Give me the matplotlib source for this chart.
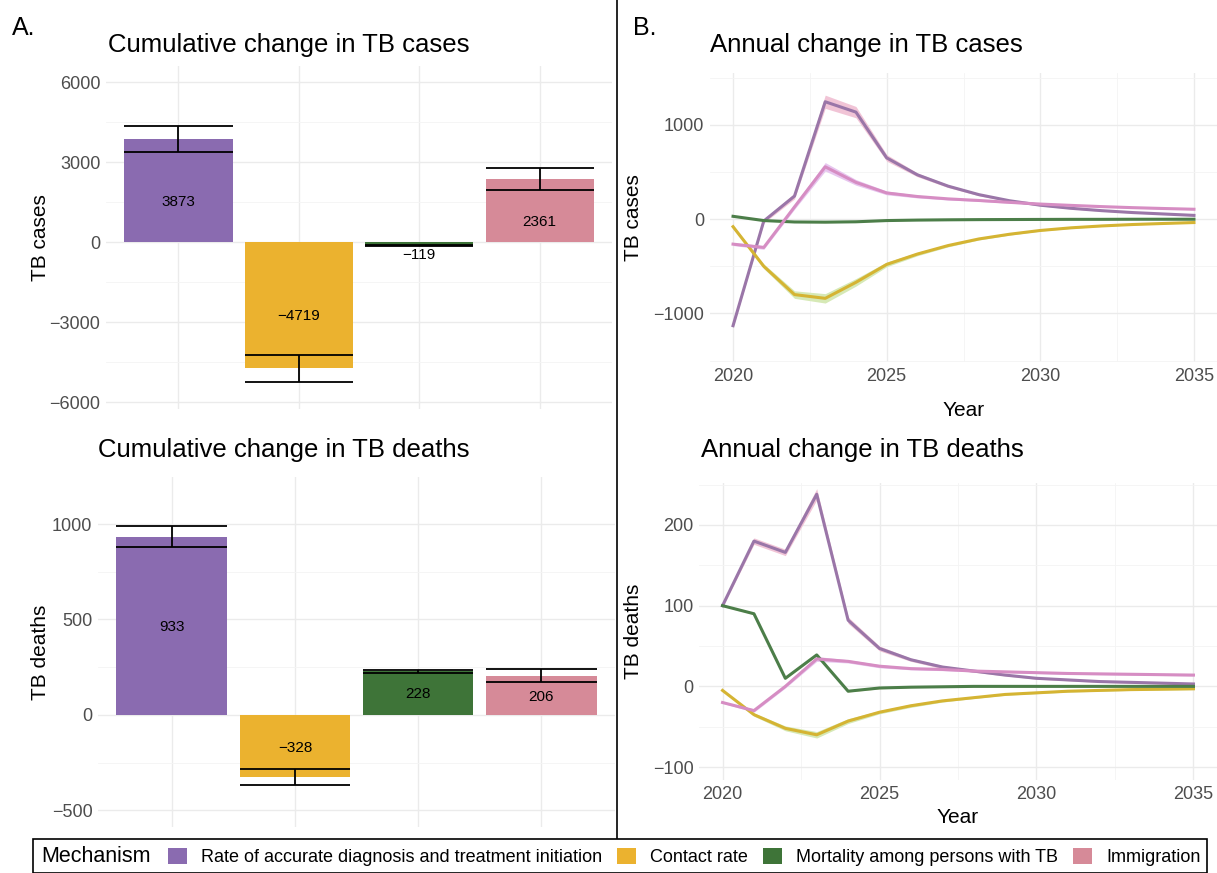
import matplotlib
matplotlib.use("Agg")
import matplotlib.pyplot as plt
from matplotlib.lines import Line2D
from matplotlib.patches import Patch, Rectangle

plt.rcParams["font.family"] = ["Liberation Sans", "DejaVu Sans"]

W, H = 1217, 873

mechanisms = [
    "Rate of accurate diagnosis and treatment initiation",
    "Contact rate",
    "Mortality among persons with TB",
    "Immigration",
]
bar_colors = ["#8A6BB0", "#EBB22F", "#3E7438", "#D68A98"]
line_colors = ["#9A76A8", "#D5B433", "#4C7E49", "#D68DC3"]
band_colors = ["#F1C4D6", "#D6E9B6", "#F3E3B4", "#E7C6EF"]

# cumulative change (panel A)
cum_cases = [3873, -4719, -119, 2361]
cum_cases_lo = [3370, -5222, -150, 1963]
cum_cases_hi = [4360, -4235, -90, 2765]
cum_deaths = [933, -328, 228, 206]
cum_deaths_lo = [882, -368, 219, 172]
cum_deaths_hi = [988, -286, 237, 240]

# annual change (panel B)
years = list(range(2020, 2036))
cases_diag = [-1130, -20, 245, 1245, 1135, 650, 470, 350, 260, 195, 148, 115, 90, 70, 55, 40]
cases_contact = [-80, -500, -800, -840, -670, -480, -370, -280, -210, -160, -120, -92, -72, -57, -46, -36]
cases_mort = [30, -15, -30, -32, -28, -15, -10, -7, -5, -4, -3, -2, -2, -1, -1, -1]
cases_immig = [-265, -300, 130, 555, 390, 278, 240, 215, 198, 178, 160, 146, 133, 122, 113, 105]
cases_diag_hw = [15, 20, 30, 70, 60, 35, 20, 15, 12, 10, 8, 7, 6, 5, 5, 4]
cases_contact_hw = [15, 25, 40, 50, 40, 25, 18, 14, 11, 9, 7, 6, 5, 4, 4, 3]
cases_mort_hw = [5, 5, 5, 5, 5, 4, 3, 3, 2, 2, 2, 2, 1, 1, 1, 1]
cases_immig_hw = [15, 20, 25, 45, 30, 20, 15, 12, 10, 9, 8, 7, 6, 6, 5, 5]

deaths_diag = [100, 180, 166, 238, 82, 47, 33, 24, 19, 14, 10, 8, 6, 5, 4, 3]
deaths_contact = [-5, -35, -52, -60, -43, -32, -24, -18, -14, -10, -8, -6, -5, -4, -3.5, -3]
deaths_mort = [100, 90, 10, 39, -6, -2, -1, -0.5, 0, 0, 0, 0, 0, 0, 0, 0]
deaths_immig = [-20, -30, 0, 34, 31, 25, 22, 21, 19, 18, 17, 16, 15.5, 15, 14.5, 14]
deaths_diag_hw = [2, 4, 4, 7, 4, 3, 2, 2, 1.5, 1, 1, 1, 1, 1, 1, 1]
deaths_contact_hw = [1, 2, 3, 4, 3, 2, 2, 1.5, 1, 1, 1, 1, 1, 1, 1, 1]
deaths_mort_hw = [1, 1, 1, 1, 1, 1, 0.5, 0.5, 0.5, 0.5, 0.5, 0.5, 0.5, 0.5, 0.5, 0.5]
deaths_immig_hw = [1, 2, 2, 3, 2, 2, 1.5, 1.5, 1, 1, 1, 1, 1, 1, 1, 1]


def rect(x0, y0, x1, y1):
    return [x0 / W, 1 - y1 / H, (x1 - x0) / W, (y1 - y0) / H]


def style(ax):
    for s in ax.spines.values():
        s.set_visible(False)
    ax.tick_params(length=0, labelsize=13, labelcolor="#4D4D4D", pad=4)
    ax.grid(True, which="major", color="#EBEBEB", lw=1.0)
    ax.grid(True, which="minor", color="#F4F4F4", lw=0.6)
    ax.set_axisbelow(True)


def bar_panel(ax, vals, lo, hi, ylim, yticks, yminor, label_dy, ylabel, lab_x):
    xs = [1, 2, 3, 4]
    ax.bar(xs, vals, width=0.9, color=bar_colors, zorder=2)
    ax.hlines(lo, [x - 0.45 for x in xs], [x + 0.45 for x in xs], color="black", lw=1.3, zorder=3)
    ax.hlines(hi, [x - 0.45 for x in xs], [x + 0.45 for x in xs], color="black", lw=1.3, zorder=3)
    ax.vlines(xs, lo, hi, color="black", lw=1.3, zorder=3)
    for x, v in zip(xs, vals):
        ax.annotate(str(v).replace("-", "\u2212"), (x, v / 2), xytext=(0, label_dy),
                    textcoords="offset points", ha="center", va="center",
                    fontsize=11, zorder=4)
    ax.set_xlim(0.4, 4.6)
    ax.set_ylim(*ylim)
    ax.set_xticks(xs)
    ax.set_xticklabels([])
    ax.set_yticks(yticks)
    ax.set_yticks(yminor, minor=True)
    ax.set_ylabel(ylabel, fontsize=15)
    ax.yaxis.set_label_coords(lab_x, 0.5)
    style(ax)
    ax.tick_params(which="minor", length=0)


def line_panel(ax, series, bands, ylim, yticks, yminor, ylabel, lab_x, xlab_y):
    for vals, hw, lc, bc in zip(series, bands, line_colors, band_colors):
        ax.fill_between(years, [v - h for v, h in zip(vals, hw)],
                        [v + h for v, h in zip(vals, hw)], color=bc, lw=0, zorder=2)
    for vals, lc in zip(series, line_colors):
        ax.plot(years, vals, color=lc, lw=2.2, zorder=3, solid_joinstyle="round")
    ax.set_xlim(2019.25, 2035.75)
    ax.set_ylim(*ylim)
    ax.set_xticks([2020, 2025, 2030, 2035])
    ax.set_xticks([2022.5, 2027.5, 2032.5], minor=True)
    ax.set_yticks(yticks)
    ax.set_yticks(yminor, minor=True)
    ax.set_ylabel(ylabel, fontsize=15)
    ax.set_xlabel("Year", fontsize=15)
    ax.yaxis.set_label_coords(lab_x, 0.5)
    ax.xaxis.set_label_coords(0.5, xlab_y)
    style(ax)
    ax.tick_params(which="minor", length=0)


fig = plt.figure(figsize=(W / 100, H / 100), dpi=100)

ax1 = fig.add_axes(rect(106, 65.5, 612, 409))
bar_panel(ax1, cum_cases, cum_cases_lo, cum_cases_hi, (-6248, 6619),
          [-6000, -3000, 0, 3000, 6000], [-4500, -1500, 1500, 4500], -8,
          "TB cases", -0.111)

ax2 = fig.add_axes(rect(98, 477, 615, 827))
bar_panel(ax2, cum_deaths, cum_deaths_lo, cum_deaths_hi, (-588, 1247),
          [-500, 0, 500, 1000], [-250, 250, 750], -1,
          "TB deaths", -0.093)

ax3 = fig.add_axes(rect(710, 73, 1217, 362))
line_panel(ax3, [cases_diag, cases_contact, cases_mort, cases_immig],
           [cases_diag_hw, cases_contact_hw, cases_mort_hw, cases_immig_hw],
           (-1515, 1550), [-1000, 0, 1000], [-1500, -500, 500, 1500],
           "TB cases", -0.132, -0.135)

ax4 = fig.add_axes(rect(699, 483, 1217, 780))
line_panel(ax4, [deaths_diag, deaths_contact, deaths_mort, deaths_immig],
           [deaths_diag_hw, deaths_contact_hw, deaths_mort_hw, deaths_immig_hw],
           (-116, 252), [-100, 0, 100, 200], [-50, 50, 150, 250],
           "TB deaths", -0.108, -0.094)

# titles and panel letters
fig.text(108 / W, 1 - 45 / H, "Cumulative change in TB cases", fontsize=18.5, va="center")
fig.text(98 / W, 1 - 450 / H, "Cumulative change in TB deaths", fontsize=18.5, va="center")
fig.text(710 / W, 1 - 45 / H, "Annual change in TB cases", fontsize=18.5, va="center")
fig.text(701 / W, 1 - 450 / H, "Annual change in TB deaths", fontsize=18.5, va="center")
fig.text(12 / W, 1 - 28 / H, "A.", fontsize=18, va="center")
fig.text(633 / W, 1 - 28 / H, "B.", fontsize=18, va="center")

# separator between panels A and B
fig.add_artist(Line2D([617 / W, 617 / W], [1 - 838 / H, 1.0], color="black", lw=1.2))

# legend box
fig.add_artist(Rectangle((33 / W, 0), (1207 - 33) / W, 1 - 838 / H - 0.001,
                         transform=fig.transFigure, fill=False, ec="black", lw=1.2))
fig.text(41 / W, 1 - 857 / H, "Mechanism", fontsize=15.5, va="center")
handles = [Patch(facecolor=c, edgecolor="none") for c in bar_colors]
fig.legend(handles, mechanisms, loc="center left",
           bbox_to_anchor=(168 / W, 1 - 857 / H), ncol=4, frameon=False,
           fontsize=13, handlelength=1.05, handleheight=1.05,
           handletextpad=0.8, columnspacing=0.8, borderpad=0, borderaxespad=0)

fig.savefig("out.png", dpi=100)
